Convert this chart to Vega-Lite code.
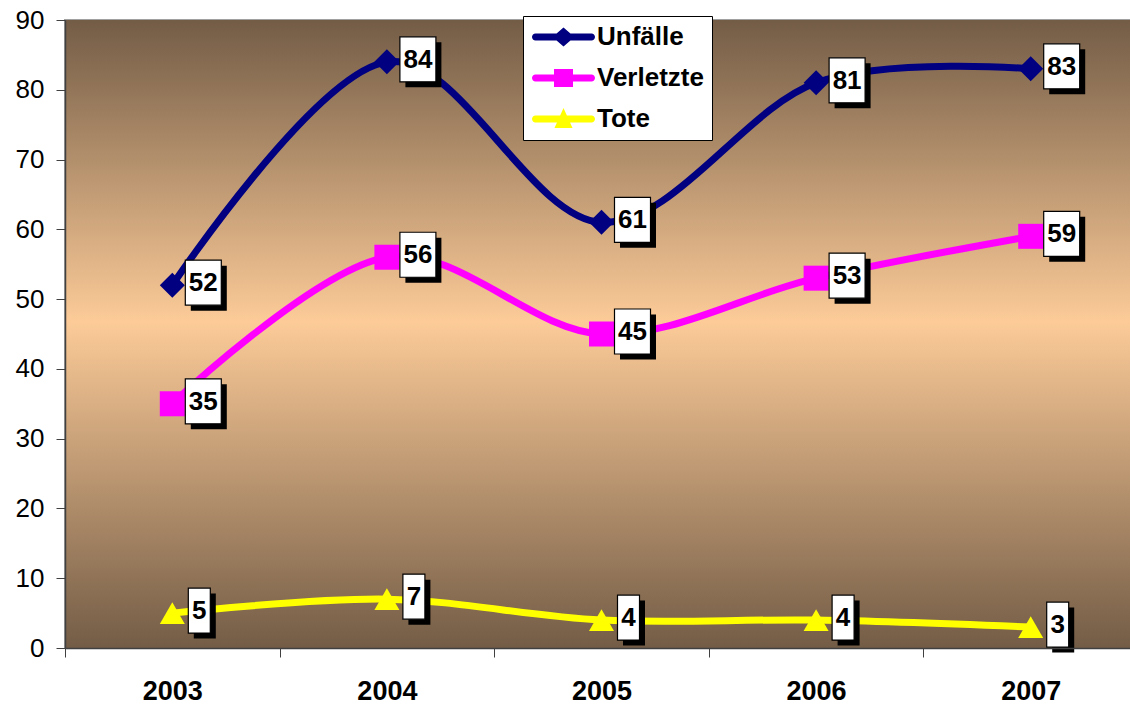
{
  "$schema": "https://vega.github.io/schema/vega-lite/v6.json",
  "width": 1073,
  "height": 628,
  "autosize": {"type": "none"},
  "padding": {"left": 65, "top": 20, "right": 0, "bottom": 58},
  "background": "white",
  "config": {
    "view": {"stroke": "#a0a0a0", "strokeWidth": 2},
    "font": "Liberation Sans"
  },
  "datasets": {
    "counts": [
      {"year": "2003", "series": "Unfälle", "value": 52},
      {"year": "2004", "series": "Unfälle", "value": 84},
      {"year": "2005", "series": "Unfälle", "value": 61},
      {"year": "2006", "series": "Unfälle", "value": 81},
      {"year": "2007", "series": "Unfälle", "value": 83},
      {"year": "2003", "series": "Verletzte", "value": 35},
      {"year": "2004", "series": "Verletzte", "value": 56},
      {"year": "2005", "series": "Verletzte", "value": 45},
      {"year": "2006", "series": "Verletzte", "value": 53},
      {"year": "2007", "series": "Verletzte", "value": 59},
      {"year": "2003", "series": "Tote", "value": 5},
      {"year": "2004", "series": "Tote", "value": 7},
      {"year": "2005", "series": "Tote", "value": 4},
      {"year": "2006", "series": "Tote", "value": 4},
      {"year": "2007", "series": "Tote", "value": 3}
    ],
    "bg": [{"lo": 0, "hi": 90}]
  },
  "layer": [
    {
      "data": {"name": "bg"},
      "mark": {
        "type": "rect",
        "fill": {
          "gradient": "linear", "x1": 0, "y1": 0, "x2": 0, "y2": 1,
          "stops": [
            {"offset": 0, "color": "#735c46"},
            {"offset": 0.48, "color": "#fccb98"},
            {"offset": 1, "color": "#735c46"}
          ]
        }
      },
      "encoding": {
        "y": {
          "field": "lo", "type": "quantitative",
          "scale": {"domain": [0, 90], "nice": false},
          "axis": {
            "title": null, "values": [0, 10, 20, 30, 40, 50, 60, 70, 80, 90], "grid": false,
            "labelFontSize": 26, "labelColor": "black", "labelPadding": 12, "tickSize": 9,
            "tickColor": "#404040", "domainColor": "#404040", "domainWidth": 1.5, "zindex": 1
          }
        },
        "y2": {"field": "hi"}
      }
    },
    {
      "data": {"name": "counts"},
      "encoding": {
        "x": {
          "field": "year", "type": "nominal",
          "scale": {"type": "band", "paddingInner": 0, "paddingOuter": 0},
          "axis": {
            "title": null, "labelAngle": 0, "labelFontSize": 27, "labelFontWeight": "bold",
            "labelColor": "black", "labelPadding": 21, "tickBand": "extent", "tickSize": 9,
            "tickColor": "#404040", "domainColor": "#404040", "domainWidth": 1.5, "zindex": 1
          }
        },
        "y": {"field": "value", "type": "quantitative"}
      },
      "layer": [
        {
          "mark": {"type": "line", "strokeWidth": 7, "interpolate": "cardinal", "strokeCap": "round"},
          "encoding": {
            "color": {
              "field": "series", "type": "nominal",
              "scale": {"domain": ["Unfälle", "Verletzte", "Tote"], "range": ["#000080", "#ff00ff", "#ffff00"]},
              "legend": {
                "orient": "none", "legendX": 458, "legendY": -4, "title": null,
                "fillColor": "white", "strokeColor": "black",
                "padding": 8, "symbolSize": 400, "labelFontSize": 26, "labelFontWeight": "bold",
                "labelColor": "black", "labelOffset": 40, "rowPadding": 15, "labelLimit": 300,
                "labelExpr": "datum.label + '\u00a0\u00a0\u00a0\u00a0\u00a0\u00a0\u00a0\u00a0\u00a0\u00a0\u00a0\u00a0\u00a0\u00a0\u00a0'",
                "encode": {
                  "symbols": {
                    "update": {
                      "shape": {"signal": "datum.value === 'Unfälle' ? 'M-0.85,-0.35L4.75,-0.35A0.35,0.35 0 0 1 4.75,0.35L-0.85,0.35A0.35,0.35 0 0 1 -0.85,-0.35ZM1.95,-0.95L3.05,0L1.95,0.95L0.85,0Z' : datum.value === 'Verletzte' ? 'M-0.85,-0.35L4.75,-0.35A0.35,0.35 0 0 1 4.75,0.35L-0.85,0.35A0.35,0.35 0 0 1 -0.85,-0.35ZM1.0,-0.9L2.9,-0.9L2.9,0.9L1.0,0.9Z' : 'M-0.85,-0.35L4.75,-0.35A0.35,0.35 0 0 1 4.75,0.35L-0.85,0.35A0.35,0.35 0 0 1 -0.85,-0.35ZM1.95,-1.1L2.85,0.9L1.05,0.9Z'"},
                      "fill": {"signal": "scale('color', datum.value)"},
                      "stroke": {"value": "transparent"},
                      "strokeWidth": {"value": 0},
                      "opacity": {"value": 1}
                    }
                  }
                }
              }
            }
          }
        },
        {
          "mark": {"type": "point", "filled": true, "opacity": 1, "size": 625},
          "encoding": {
            "color": {"field": "series", "type": "nominal"},
            "shape": {
              "condition": [
                {"test": "datum.series === 'Unfälle'", "value": "diamond"},
                {"test": "datum.series === 'Verletzte'", "value": "square"}
              ],
              "value": "triangle-up"
            }
          }
        },
        {
          "mark": {"type": "point", "filled": true, "color": "black", "opacity": 1, "size": 400, "strokeWidth": 0},
          "encoding": {
            "shape": {
              "condition": {"test": "datum.value < 10", "value": "M2.15,-1.95L4.35,-1.95L4.35,2.55L2.15,2.55Z"},
              "value": "M1.85,-1.95L5.45,-1.95L5.45,2.55L1.85,2.55Z"
            }
          }
        },
        {
          "mark": {"type": "point", "filled": true, "color": "white", "stroke": "black", "strokeWidth": 1.2, "opacity": 1, "size": 400},
          "encoding": {
            "shape": {
              "condition": {"test": "datum.value < 10", "value": "M1.6,-2.5L3.8,-2.5L3.8,2L1.6,2Z"},
              "value": "M1.3,-2.5L4.9,-2.5L4.9,2L1.3,2Z"
            }
          }
        },
        {
          "transform": [{"filter": "datum.value >= 10"}],
          "mark": {"type": "text", "dx": 31, "dy": -2, "fontSize": 26, "fontWeight": "bold", "color": "black", "align": "center", "baseline": "middle"},
          "encoding": {"text": {"field": "value", "type": "quantitative"}}
        },
        {
          "transform": [{"filter": "datum.value < 10"}],
          "mark": {"type": "text", "dx": 27, "dy": -2, "fontSize": 26, "fontWeight": "bold", "color": "black", "align": "center", "baseline": "middle"},
          "encoding": {"text": {"field": "value", "type": "quantitative"}}
        }
      ]
    }
  ]
}
